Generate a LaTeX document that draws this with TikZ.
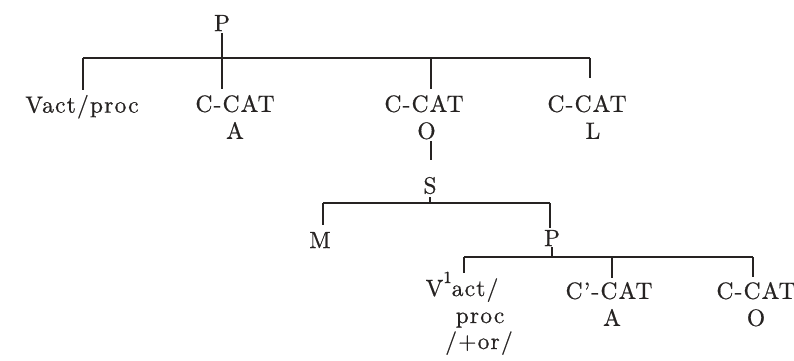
\documentclass[tikz,border=0pt]{standalone}
\usepackage{fontspec}
\setmainfont{lmroman10-regular.otf}[LetterSpace=5,FakeBold=0.6]
\definecolor{ink}{HTML}{262322}
\begin{document}
\begin{tikzpicture}[x=1pt,y=-1pt,line width=1.3pt,draw=ink,
  lbl/.style={inner sep=0pt,outer sep=0pt,anchor=north,align=center,text=ink,
    font=\fontsize{23.5}{27}\selectfont},
  bl/.style={lbl,anchor=base}]
\useasboundingbox[fill=white] (0,0) rectangle (794,360);
% nodes
\node[lbl] (P1) at (222,15) {P};
\node[lbl] (va) at (82,95) {Vact/proc};
\node[lbl] (ca) at (235,95) {C-CAT\\A};
\node[lbl] (co) at (424,95) {C-CAT\\\hspace*{5pt}O};
\node[lbl] (cl) at (587,95) {C-CAT\\\hspace*{12pt}L};
\node[lbl] (S) at (430,177) {S};
\node[lbl] (M) at (320,232) {M};
\node[lbl] (P2) at (552,230) {P};
\node[bl] (v1) at (462,296) {V\raisebox{13pt}{\fontsize{17}{17}\selectfont 1}act/};
\node[bl] (proc) at (480,323) {proc};
\node[bl] (or) at (479,349) {/+or/};
\node[lbl] (ca2) at (609,282) {C'-CAT\\\hspace*{6pt}A};
\node[lbl] (co2) at (756,282) {C-CAT\\O};
% junctions
\coordinate (j1a) at (83,58);
\coordinate (j1b) at (222,58);
\coordinate (j1c) at (431,58);
\coordinate (j1d) at (590,58);
\coordinate (j2a) at (323,203);
\coordinate (j2b) at (550,203);
\coordinate (j3a) at (464,257);
\coordinate (j3b) at (612,257);
\coordinate (j3c) at (753,257);
% level 1
\draw (j1a) -- (j1d);
\draw[shorten <=2pt] (P1.south) -- (j1b);
\draw[shorten >=5pt] (j1a) -- (j1a |- va.north);
\draw[shorten >=6pt] (j1b) -- (j1b |- ca.north);
\draw[shorten >=6pt] (j1c) -- (j1c |- co.north);
\draw[shorten >=17pt] (j1d) -- (j1d |- cl.north);
% O -> S
\draw[shorten <=2pt,shorten >=17pt] (j1c |- co.south) -- (j1c |- S.north);
% level 2
\draw[shorten <=3pt] (S.south) -- (S.south |- j2a);
\draw (j2a) -- (j2b);
\draw[shorten >=7pt] (j2a) -- (j2a |- M.north);
\draw[shorten >=2pt] (j2b) -- (j2b |- P2.north);
% level 3
\draw[shorten <=1pt] (P2.south) -- (P2.south |- j3a);
\draw (j3a) -- (j3c);
\draw[shorten >=-1pt] (j3a) -- (j3a |- v1.north);
\draw[shorten >=4pt] (j3b) -- (j3b |- ca2.north);
\draw[shorten >=5pt] (j3c) -- (j3c |- co2.north);
\end{tikzpicture}
\end{document}
